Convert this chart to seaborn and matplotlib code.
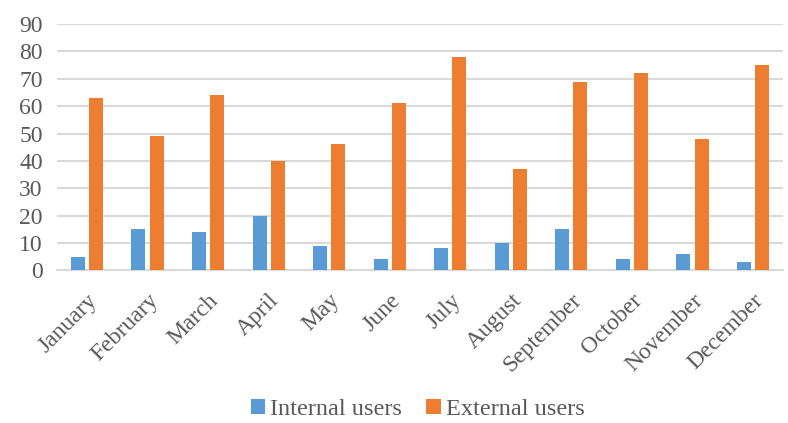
import matplotlib
matplotlib.use("Agg")
import matplotlib.pyplot as plt
import seaborn as sns
import pandas as pd
from matplotlib.patches import Patch

months = ["January", "February", "March", "April", "May", "June", "July",
          "August", "September", "October", "November", "December"]
internal_users = [5, 15, 14, 20, 9, 4, 8, 10, 15, 4, 6, 3]
external_users = [63, 49, 64, 40, 46, 61, 78, 37, 69, 72, 48, 75]
series_names = ["Internal users", "External users"]
y_ticks = [0, 10, 20, 30, 40, 50, 60, 70, 80, 90]

df = pd.DataFrame({
    "Month": months * 2,
    "Users": internal_users + external_users,
    "Series": [series_names[0]] * 12 + [series_names[1]] * 12,
})

sns.set_theme(style="white")
plt.rcParams["font.family"] = ["Liberation Serif", "DejaVu Serif"]
text_color = "#595959"
colors = ["#5B9BD5", "#ED7D31"]

fig = plt.figure(figsize=(7.88, 4.23), dpi=100)
ax = fig.add_axes([0.072, 0.361, 0.922, 0.582])

sns.barplot(data=df, x="Month", y="Users", hue="Series", order=months,
            hue_order=series_names, palette=colors,
            saturation=1, width=0.6, linewidth=0,
            ax=ax, legend=False, zorder=3)

# shrink each bar around its own centre to leave a small gap between series
for p in ax.patches:
    w = p.get_width()
    nw = w * 0.77
    p.set_x(p.get_x() + (w - nw) / 2)
    p.set_width(nw)

ax.set_ylim(0, 90)
ax.set_yticks(y_ticks)
ax.set_xlim(-0.5, 11.5)
ax.yaxis.grid(True, color="#D9D9D9", linewidth=1.5, zorder=0)
ax.set_axisbelow(True)
for s in ["top", "right", "left"]:
    ax.spines[s].set_visible(False)
ax.spines["bottom"].set_color("#D9D9D9")
ax.spines["bottom"].set_linewidth(1.5)
ax.set_xlabel("")
ax.set_ylabel("")
ax.tick_params(axis="both", length=0, colors=text_color, labelsize=17)
ax.tick_params(axis="y", pad=10)
ax.tick_params(axis="x", pad=14)
for lbl in ax.get_xticklabels():
    lbl.set_rotation(45)
    lbl.set_ha("right")
    lbl.set_va("top")
    lbl.set_rotation_mode("anchor")

handles = [Patch(facecolor=c, edgecolor="none") for c in colors]
leg = fig.legend(handles, series_names, loc="lower center",
                 bbox_to_anchor=(0.53, -0.045), ncol=2,
                 frameon=False, fontsize=17.5, handlelength=0.6, handleheight=0.6,
                 handletextpad=0.2, columnspacing=1.0)
for t in leg.get_texts():
    t.set_color(text_color)

fig.savefig("out.png", dpi=100, facecolor="white")
